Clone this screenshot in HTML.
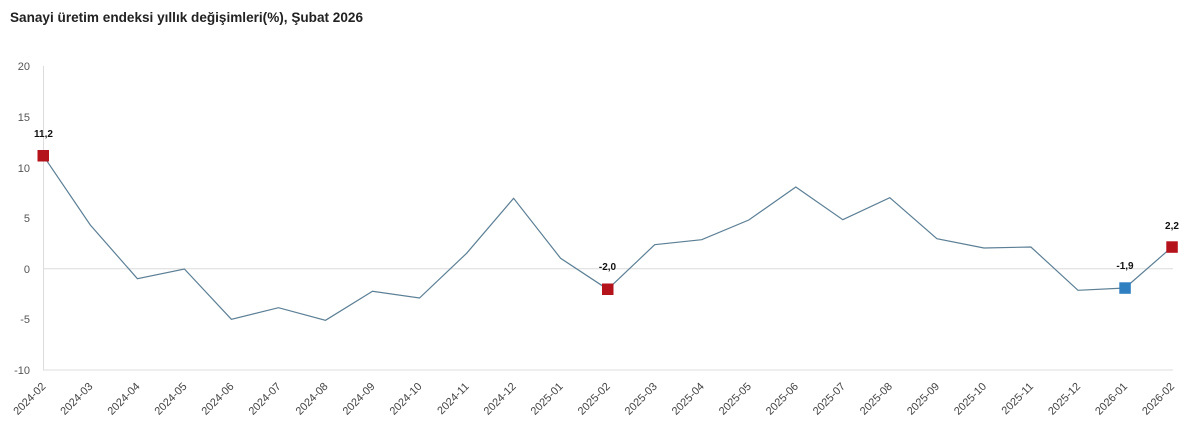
<!DOCTYPE html>
<html><head><meta charset="utf-8"><style>
html,body{margin:0;padding:0;background:#fff;}
svg{display:block;font-family:"Liberation Sans",Arial,sans-serif;}
</style></head><body>
<svg width="1200" height="443" viewBox="0 0 1200 443" xmlns="http://www.w3.org/2000/svg">
<rect width="1200" height="443" fill="#fff"/>
<text x="10" y="22" font-size="14" font-weight="bold" fill="#222" textLength="353" lengthAdjust="spacingAndGlyphs">Sanayi üretim endeksi yıllık değişimleri(%), Şubat 2026</text>
<g stroke="#dcdcdc" stroke-width="1">
<line x1="43.5" y1="66" x2="43.5" y2="370"/>
<line x1="43" y1="268.8" x2="1173" y2="268.8"/>
<line x1="43" y1="370" x2="1173" y2="370"/>
</g>
<g font-size="11" fill="#555" text-anchor="end">
<text x="30" y="70">20</text>
<text x="30" y="121">15</text>
<text x="30" y="172">10</text>
<text x="30" y="222">5</text>
<text x="30" y="273">0</text>
<text x="30" y="323">-5</text>
<text x="30" y="374">-10</text>
</g>
<polyline fill="none" stroke="#5b7f95" stroke-width="1.2" points="43.3,155.7 90.3,225 137.4,278.7 184.4,269 231.4,319.3 278.5,307.7 325.5,320.3 372.5,291.3 419.5,298 466.6,253.3 513.6,198.3 560.6,258.3 607.7,289.3 654.7,244.7 701.7,239.7 748.8,220 795.8,187 842.8,219.7 889.8,197.7 936.9,238.7 983.9,248 1030.9,247 1078,290.3 1125,288 1172,247"/>
<g>
<rect x="37.5" y="150" width="11.5" height="11.5" fill="#b5131c"/>
<rect x="602" y="283.5" width="11.5" height="11.5" fill="#b5131c"/>
<rect x="1119.3" y="282.3" width="11.5" height="11.5" fill="#2f7fc1"/>
<rect x="1166.3" y="241.3" width="11.5" height="11.5" fill="#b5131c"/>
</g>
<g font-size="10" font-weight="bold" fill="#111" text-anchor="middle">
<text x="43.5" y="137">11,2</text>
<text x="607.5" y="270">-2,0</text>
<text x="1125" y="269">-1,9</text>
<text x="1172" y="229">2,2</text>
</g>
<g font-size="11" fill="#444" text-anchor="end">
<text transform="translate(46.3,387) rotate(-45)">2024-02</text>
<text transform="translate(93.3,387) rotate(-45)">2024-03</text>
<text transform="translate(140.4,387) rotate(-45)">2024-04</text>
<text transform="translate(187.4,387) rotate(-45)">2024-05</text>
<text transform="translate(234.4,387) rotate(-45)">2024-06</text>
<text transform="translate(281.5,387) rotate(-45)">2024-07</text>
<text transform="translate(328.5,387) rotate(-45)">2024-08</text>
<text transform="translate(375.5,387) rotate(-45)">2024-09</text>
<text transform="translate(422.5,387) rotate(-45)">2024-10</text>
<text transform="translate(469.6,387) rotate(-45)">2024-11</text>
<text transform="translate(516.6,387) rotate(-45)">2024-12</text>
<text transform="translate(563.6,387) rotate(-45)">2025-01</text>
<text transform="translate(610.7,387) rotate(-45)">2025-02</text>
<text transform="translate(657.7,387) rotate(-45)">2025-03</text>
<text transform="translate(704.7,387) rotate(-45)">2025-04</text>
<text transform="translate(751.8,387) rotate(-45)">2025-05</text>
<text transform="translate(798.8,387) rotate(-45)">2025-06</text>
<text transform="translate(845.8,387) rotate(-45)">2025-07</text>
<text transform="translate(892.8,387) rotate(-45)">2025-08</text>
<text transform="translate(939.9,387) rotate(-45)">2025-09</text>
<text transform="translate(986.9,387) rotate(-45)">2025-10</text>
<text transform="translate(1033.9,387) rotate(-45)">2025-11</text>
<text transform="translate(1081,387) rotate(-45)">2025-12</text>
<text transform="translate(1128,387) rotate(-45)">2026-01</text>
<text transform="translate(1175,387) rotate(-45)">2026-02</text>
</g>
</svg>
</body></html>
